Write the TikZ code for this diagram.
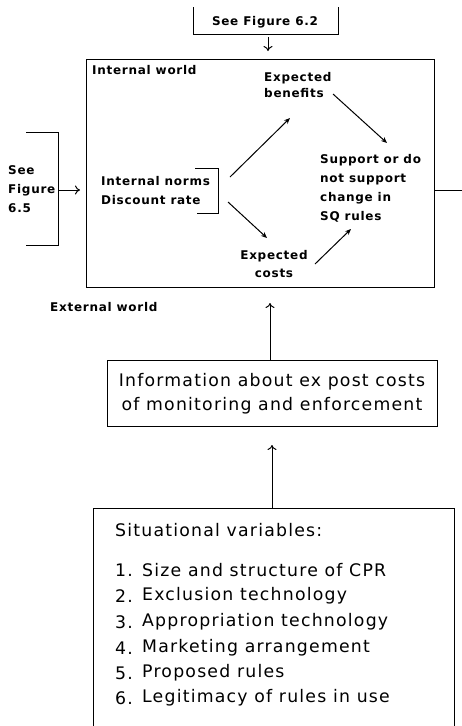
\documentclass[tikz,border=0pt]{standalone}
\usepackage{fontspec}
\setmainfont{DejaVu Sans}
\newfontfamily\sfnt{DejaVu Sans}[LetterSpace=6]
\newfontfamily\bfnt{DejaVu Sans}[LetterSpace=7]
\usetikzlibrary{arrows.meta}
\tikzset{
  small/.style={font={\sfnt\fontsize{12}{16}\selectfont\bfseries}, inner sep=0pt, align=left},
  big/.style={font={\bfnt\fontsize{17.3}{24}\selectfont}, inner sep=0pt},
  ln/.style={line width=1pt},
  arr/.style={line width=1pt, -{To[length=5pt,width=9pt]}},
  darr/.style={line width=1pt, -{Stealth[length=6pt,width=5pt]}},
}
\begin{document}
\begin{tikzpicture}[x=1pt,y=-1pt]
\useasboundingbox (0,0) rectangle (462,726);
% top bracket
\coordinate (t1) at (193,7); \coordinate (t2) at (193,34);
\coordinate (t3) at (338,34); \coordinate (t4) at (338,7);
\draw[ln] (t1) -- (t2) -- (t3) -- (t4);
\node[small] (seetop) at (265,22) {See Figure 6.2};
\coordinate (ta) at (268,37); \coordinate (tb) at (268,51);
\draw[arr] (ta) -- (tb);
% main box
\node[draw, line width=1.4pt, minimum width=348pt, minimum height=228pt, anchor=north west, inner sep=0pt] (inner) at (86,59) {};
\node[small, anchor=west] (iw) at (92,70) {Internal world};
\node[small, anchor=west, font={\sfnt\fontsize{12}{16}\selectfont\bfseries}] (ben) at (264,85) {Expected\\benefits};
\node[small, anchor=west, font={\sfnt\fontsize{12}{19}\selectfont\bfseries}] (sup) at (320,188.5) {Support or do\\not support\\change in\\SQ rules};
\node[small, anchor=west, font={\sfnt\fontsize{12}{19}\selectfont\bfseries}] (norm) at (101,190.5) {Internal norms\\Discount rate};
\node[small, align=center, font={\sfnt\fontsize{12}{18}\selectfont\bfseries}] (cost) at (274,264) {Expected\\costs};
% norms bracket
\coordinate (n1) at (195,168); \coordinate (n2) at (218,168);
\coordinate (n3) at (218,213); \coordinate (n4) at (197,213);
\draw[ln] (n1) -- (n2) -- (n3) -- (n4);
% internal arrows
\coordinate (a1) at (230,177); \coordinate (a2) at (290,118);
\coordinate (b1) at (228,202); \coordinate (b2) at (267,238);
\coordinate (c1) at (333,94); \coordinate (c2) at (387,143);
\coordinate (d1) at (315,264); \coordinate (d2) at (351,229);
\draw[darr] (a1) -- (a2);
\draw[darr] (b1) -- (b2);
\draw[darr] (c1) -- (c2);
\draw[darr] (d1) -- (d2);
% right line
\coordinate (r1) at (434,190); \coordinate (r2) at (462,190);
\draw[line width=0.7pt] (r1) -- (r2);
% left bracket
\coordinate (l1) at (26,132); \coordinate (l2) at (58,132);
\coordinate (l3) at (58,245); \coordinate (l4) at (26,245);
\draw[ln] (l1) -- (l2) -- (l3) -- (l4);
\node[small, anchor=west, font={\sfnt\fontsize{12}{19}\selectfont\bfseries}] (seeleft) at (8,189) {See\\Figure\\6.5};
\coordinate (la) at (58,190); \coordinate (lb) at (80,190);
\draw[arr] (la) -- (lb);
% external world
\node[small, anchor=west] (ew) at (50,307) {External world};
% info box
\node[draw, line width=1pt, minimum width=330pt, minimum height=66pt, anchor=north west, inner sep=0pt] (infobox) at (107,360) {};
\node[big, align=center] (info) at (272,394) {Information about ex post costs\\of monitoring and enforcement};
\coordinate (ia) at (270,360); \coordinate (ib) at (270,303);
\draw[arr] (ia) -- (ib);
% situational box
\coordinate (s1) at (93,726); \coordinate (s2) at (93,508);
\coordinate (s3) at (454,508); \coordinate (s4) at (454,726);
\draw[line width=1pt] (s1) -- (s2) -- (s3) -- (s4);
\coordinate (sa) at (272,508); \coordinate (sb) at (272,445);
\draw[arr] (sa) -- (sb);
\node[big, anchor=west] (sit) at (115,530) {Situational variables:};
\foreach \i/\t/\y in {1/Size and structure of CPR/570, 2/Exclusion technology/596, 3/Appropriation technology/622, 4/Marketing arrangement/648, 5/Proposed rules/673, 6/Legitimacy of rules in use/698}{
  \node[big, anchor=east] (num\i) at (133,\y) {\i.};
  \node[big, anchor=west] (item\i) at (142,\y) {\t};
}
\end{tikzpicture}
\end{document}
